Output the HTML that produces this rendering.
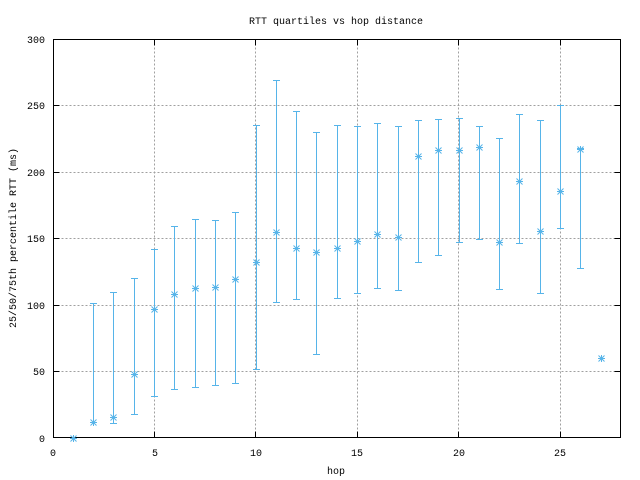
<!DOCTYPE html>
<html><head><meta charset="utf-8"><style>
html,body{margin:0;padding:0;background:#fff;}
svg{display:block;}
text{font-family:"Liberation Mono","DejaVu Sans Mono",monospace;font-size:10px;fill:#000;}
</style></head><body>
<svg id="s" width="640" height="480" viewBox="0 0 640 480" xmlns="http://www.w3.org/2000/svg">
<rect width="640" height="480" fill="#fff"/>
<g stroke="#a0a0a0" stroke-width="1" stroke-dasharray="2,2" fill="none">
<path d="M53.5 371.5H620.5M53.5 305.5H620.5M53.5 238.5H620.5M53.5 172.5H620.5M53.5 105.5H620.5"/>
<path d="M154.5 39.5V437.5M255.5 39.5V437.5M357.5 39.5V437.5M458.5 39.5V437.5M560.5 39.5V437.5"/>
</g>
<g stroke="#000" stroke-width="1" fill="none">
<rect x="53.5" y="39.5" width="567" height="398"/>
<path d="M53.5 371.5h6M53.5 305.5h6M53.5 238.5h6M53.5 172.5h6M53.5 105.5h6M620.5 371.5h-6M620.5 305.5h-6M620.5 238.5h-6M620.5 172.5h-6M620.5 105.5h-6"/>
<path d="M154.5 437.5v-6M255.5 437.5v-6M357.5 437.5v-6M458.5 437.5v-6M560.5 437.5v-6M154.5 39.5v6M255.5 39.5v6M357.5 39.5v6M458.5 39.5v6M560.5 39.5v6"/>
</g>
<g text-anchor="end">
<text x="45" y="442">0</text><text x="45" y="375">50</text><text x="45" y="309">100</text>
<text x="45" y="242">150</text><text x="45" y="176">200</text><text x="45" y="109">250</text><text x="45" y="43">300</text>
</g>
<g text-anchor="middle">
<text x="53" y="456">0</text><text x="155" y="456">5</text><text x="256" y="456">10</text>
<text x="357" y="456">15</text><text x="459" y="456">20</text><text x="560" y="456">25</text>
<text x="336" y="474">hop</text>
<text x="336" y="24">RTT quartiles vs hop distance</text>
<text transform="translate(16,238) rotate(-90)">25/50/75th percentile RTT (ms)</text>
</g>
<g id="d" stroke="#56b4e9" stroke-width="1" fill="none"></g>
</svg>
<script>
var data=[[1,438,438,438],[2,303.3,421.7,422],[3,292.3,416.7,423.3],[4,278.3,374.3,414.3],[5,249.3,309.3,396.3],[6,226.3,294.3,389.3],[7,219.3,288.3,387.3],[8,220.3,287.3,385.3],[9,212.3,279.3,383],[10,125.3,262.3,368.7],[11,80.3,232.3,302.3],[12,111,247.7,299],[13,132.3,252.3,354],[14,125.3,248.3,298],[15,126.3,241.3,293.3],[16,123.3,234,288.3],[17,126.3,237.3,290.3],[18,120.3,156.3,262.3],[19,119.3,150.3,255.3],[20,118.3,150.3,242.3],[21,126.3,147.3,239.3],[22,138.3,242.3,289.3],[23,114.3,180.7,243.3],[24,120.3,231.3,293.3],[25,105.3,190.7,228.3],[26,148.3,149.3,268.3],[27,357.7,357.7,357.7]];
var p="";
data.forEach(function(d){
 var x=Math.floor(53+20.3*d[0])+0.5,t=Math.round(d[1])+0.5,m=Math.round(d[2])+0.5,b=Math.round(d[3])+0.5;
 if(b-t>1){p+="M"+x+" "+t+"V"+b+"M"+(x-3.5)+" "+t+"h7M"+(x-3.5)+" "+b+"h7";}
 p+="M"+(x-3.5)+" "+m+"h7M"+x+" "+(m-3.5)+"v7M"+(x-3)+" "+(m-3)+"l6 6M"+(x-3)+" "+(m+3)+"l6 -6";
});
var e=document.createElementNS("http://www.w3.org/2000/svg","path");
e.setAttribute("d",p);document.getElementById("d").appendChild(e);
</script>
</body></html>
